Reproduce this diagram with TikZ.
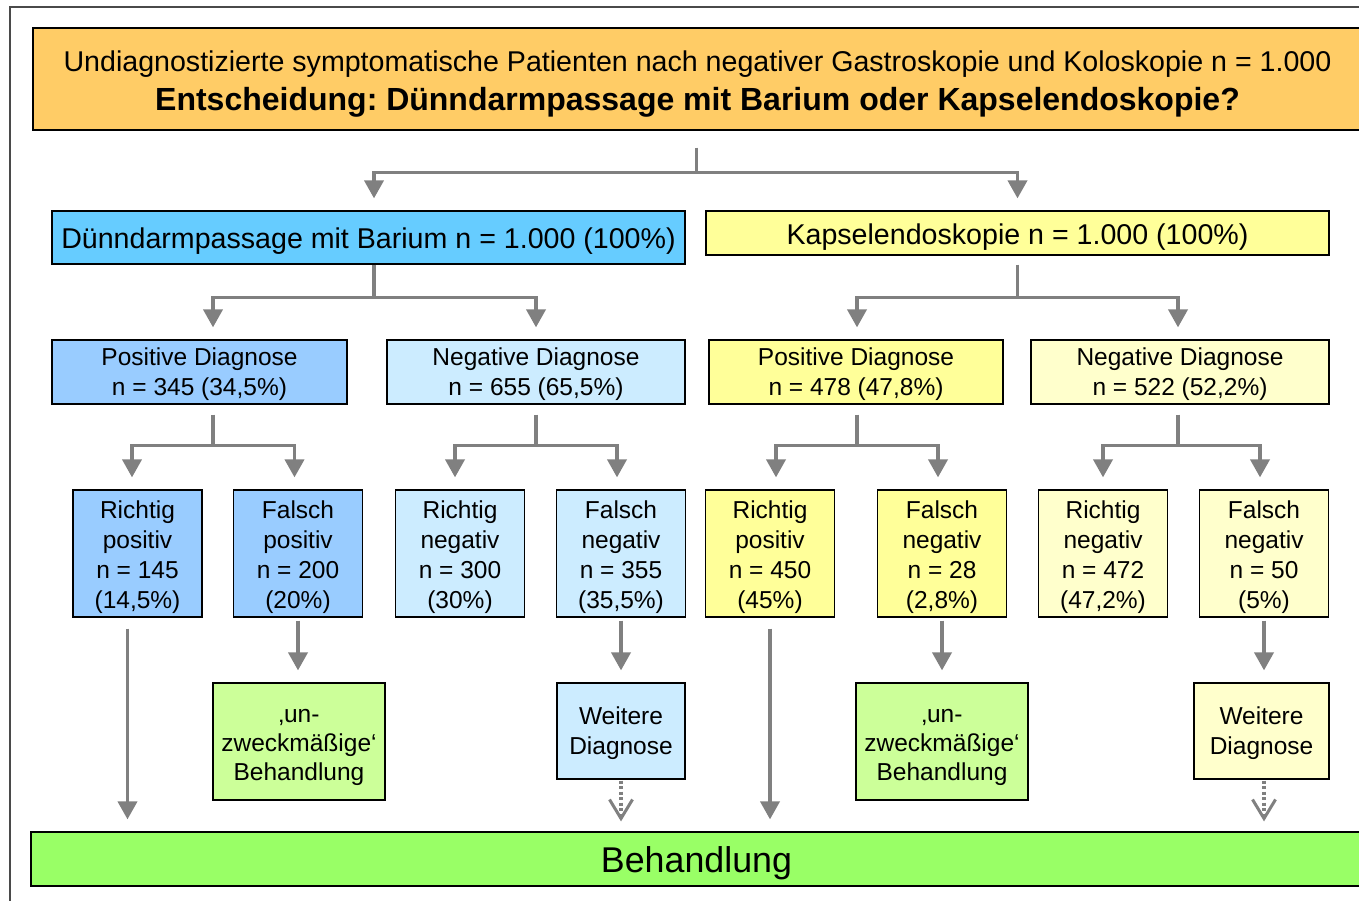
\documentclass[tikz,border=0pt]{standalone}
\usepackage{fontspec}
\setmainfont{Liberation Sans}
\usetikzlibrary{arrows.meta,calc}
\definecolor{cOrange}{HTML}{FFCC66}
\definecolor{cBlue}{HTML}{66CCFF}
\definecolor{cBlueM}{HTML}{99CCFF}
\definecolor{cBlueL}{HTML}{CCECFF}
\definecolor{cYel}{HTML}{FFFF99}
\definecolor{cYelL}{HTML}{FFFFCC}
\definecolor{cGreenL}{HTML}{CCFF99}
\definecolor{cGreen}{HTML}{99FF66}
\definecolor{cArr}{HTML}{808080}
\definecolor{cFrame}{HTML}{4A4A4A}
\newcommand\tstrut[1]{\rule{0pt}{#1}}
\frenchspacing
\begin{document}
\begin{tikzpicture}[x=1pt,y=-1pt,
  box/.style={draw=black, line width=1.2pt, inner sep=0pt, align=center,
    font=\fontsize{24.5}{30}\selectfont},
  lvtwo/.style={box, minimum height=64pt},
  lvthree/.style={box, minimum width=129pt, minimum height=127pt},
  gl/.style={draw=cArr, line width=3.75pt},
  ga/.style={gl, -{Triangle[width=19pt,length=18pt]}},
  gd/.style={draw=cArr, line width=3.75pt, dash pattern=on 3pt off 2.5pt,
    -{Straight Barb[length=19pt,width=23pt,line width=3pt]}}
]
\useasboundingbox (0,0) rectangle (1359,901);
\clip (0,0) rectangle (1359,901);
\fill[white] (0,0) rectangle (1359,901);
\draw[cFrame, line width=2pt] (10,905) -- (10,7) -- (1365,7);

% top
\node[box, fill=cOrange, minimum width=1329pt, minimum height=102pt,
  font=\fontsize{28.6}{39}\selectfont] (top) at (697.5,79)
  {\tstrut{30.4pt}Undiagnostizierte symptomatische Patienten nach negativer Gastroskopie und Koloskopie n = 1.000\\
   {\fontsize{32}{39}\selectfont\bfseries Entscheidung: Dünndarmpassage mit Barium oder Kapselendoskopie?}};

% level 1
\node[box, fill=cBlue, minimum width=633pt, minimum height=53pt,
  font=\fontsize{28.6}{32}\selectfont] (barium) at (368.5,237.5)
  {\tstrut{27.6pt}Dünndarmpassage mit Barium n = 1.000 (100\%)};
\node[box, fill=cYel, minimum width=623pt, minimum height=44pt,
  font=\fontsize{28.6}{32}\selectfont] (kapsel) at (1017.5,233)
  {\tstrut{28.8pt}Kapselendoskopie n = 1.000 (100\%)};

% level 2
\node[lvtwo, fill=cBlueM, minimum width=295pt] (bpos) at (199.5,372)
  {\tstrut{22pt}Positive Diagnose\\n = 345 (34,5\%)};
\node[lvtwo, fill=cBlueL, minimum width=298pt] (bneg) at (536,372)
  {\tstrut{22pt}Negative Diagnose\\n = 655 (65,5\%)};
\node[lvtwo, fill=cYel, minimum width=294pt] (kpos) at (856,372)
  {\tstrut{22pt}Positive Diagnose\\n = 478 (47,8\%)};
\node[lvtwo, fill=cYelL, minimum width=298pt] (kneg) at (1180,372)
  {\tstrut{22pt}Negative Diagnose\\n = 522 (52,2\%)};

% level 3
\node[lvthree, fill=cBlueM] (rpb) at (137.5,553.5) {\tstrut{26pt}Richtig\\positiv\\n = 145\\(14,5\%)};
\node[lvthree, fill=cBlueM] (fpb) at (298,553.5) {\tstrut{26pt}Falsch\\positiv\\n = 200\\(20\%)};
\node[lvthree, fill=cBlueL] (rnb) at (460,553.5) {\tstrut{26pt}Richtig\\negativ\\n = 300\\(30\%)};
\node[lvthree, fill=cBlueL] (fnb) at (621,553.5) {\tstrut{26pt}Falsch\\negativ\\n = 355\\(35,5\%)};
\node[lvthree, fill=cYel] (rpk) at (770,553.5) {\tstrut{26pt}Richtig\\positiv\\n = 450\\(45\%)};
\node[lvthree, fill=cYel] (fnk) at (942,553.5) {\tstrut{26pt}Falsch\\negativ\\n = 28\\(2,8\%)};
\node[lvthree, fill=cYelL] (rnk) at (1103,553.5) {\tstrut{26pt}Richtig\\negativ\\n = 472\\(47,2\%)};
\node[lvthree, fill=cYelL] (fnkk) at (1264,553.5) {\tstrut{26pt}Falsch\\negativ\\n = 50\\(5\%)};

% level 4
\node[box, fill=cGreenL, minimum width=172pt, minimum height=117pt,
  font=\fontsize{24.5}{29}\selectfont] (unzb) at (299,741.5)
  {\tstrut{24.7pt}‚un-\\zweckmäßige‘\\Behandlung};
\node[box, fill=cBlueL, minimum width=128pt, minimum height=96pt] (wdb) at (621,731)
  {\tstrut{22pt}Weitere\\Diagnose};
\node[box, fill=cGreenL, minimum width=172pt, minimum height=117pt,
  font=\fontsize{24.5}{29}\selectfont] (unzk) at (942,741.5)
  {\tstrut{24.7pt}‚un-\\zweckmäßige‘\\Behandlung};
\node[box, fill=cYelL, minimum width=135pt, minimum height=96pt] (wdk) at (1261.5,731)
  {\tstrut{22pt}Weitere\\Diagnose};

% bottom
\node[box, fill=cGreen, minimum width=1331pt, minimum height=54pt,
  font=\fontsize{35.8}{40}\selectfont] (beh) at (696.5,859) {\tstrut{34pt}Behandlung};

% connectors: top fork
\coordinate (tF) at ([xshift=-1pt,yshift=-42pt]top.south);
\draw[gl] ([xshift=-1pt,yshift=-17pt]top.south) -- (tF);
\draw[ga] (tF) -| ([xshift=5.5pt,yshift=12pt]barium.north);
\draw[ga] (tF) -| ([yshift=12pt]kapsel.north);

% barium fork
\coordinate (bF) at ([xshift=5.5pt,yshift=-33pt]barium.south);
\draw[gl] ([xshift=5.5pt]barium.south) -- (bF);
\draw[ga] (bF) -| ([xshift=13.5pt,yshift=12pt]bpos.north);
\draw[ga] (bF) -| ([yshift=12pt]bneg.north);

% kapsel fork
\coordinate (kF) at ([yshift=-42pt]kapsel.south);
\draw[gl] ([yshift=-9pt]kapsel.south) -- (kF);
\draw[ga] (kF) -| ([xshift=1pt,yshift=12pt]kpos.north);
\draw[ga] (kF) -| ([xshift=-2pt,yshift=12pt]kneg.north);

% level 2 forks
\coordinate (bpF) at ([xshift=13.5pt,yshift=-41pt]bpos.south);
\draw[gl] ([xshift=13.5pt,yshift=-10pt]bpos.south) -- (bpF);
\draw[ga] (bpF) -| ([xshift=-5.5pt,yshift=12pt]rpb.north);
\draw[ga] (bpF) -| ([xshift=-3.5pt,yshift=12pt]fpb.north);

\coordinate (bnF) at ([yshift=-41pt]bneg.south);
\draw[gl] ([yshift=-10pt]bneg.south) -- (bnF);
\draw[ga] (bnF) -| ([xshift=-5pt,yshift=12pt]rnb.north);
\draw[ga] (bnF) -| ([xshift=-4pt,yshift=12pt]fnb.north);

\coordinate (kpF) at ([xshift=1pt,yshift=-41pt]kpos.south);
\draw[gl] ([xshift=1pt,yshift=-10pt]kpos.south) -- (kpF);
\draw[ga] (kpF) -| ([xshift=6pt,yshift=12pt]rpk.north);
\draw[ga] (kpF) -| ([xshift=-4pt,yshift=12pt]fnk.north);

\coordinate (knF) at ([xshift=-2pt,yshift=-41pt]kneg.south);
\draw[gl] ([xshift=-2pt,yshift=-10pt]kneg.south) -- (knF);
\draw[ga] (knF) -| ([yshift=12pt]rnk.north);
\draw[ga] (knF) -| ([xshift=-4pt,yshift=12pt]fnkk.north);

% level 3 -> level 4
\draw[ga, shorten >=12pt] ([yshift=-3pt]fpb.south) -- (fpb.south |- unzb.north);
\draw[ga, shorten >=12pt] ([yshift=-3pt]fnb.south) -- (fnb.south |- wdb.north);
\draw[ga, shorten >=12pt] ([yshift=-3pt]fnk.south) -- (fnk.south |- unzk.north);
\draw[ga, shorten >=12pt] ([yshift=-3pt]fnkk.south) -- (fnkk.south |- wdk.north);

% long arrows to Behandlung
\draw[ga, shorten >=12pt] ([xshift=-10pt,yshift=-11pt]rpb.south) -- ([xshift=-10pt]rpb.south |- beh.north);
\draw[ga, shorten >=12pt] ([yshift=-11pt]rpk.south) -- (rpk.south |- beh.north);

% dotted arrows
\draw[gd, shorten >=10pt] ([yshift=-1pt]wdb.south) -- (wdb.south |- beh.north);
\draw[gd, shorten >=10pt] ([xshift=2.5pt,yshift=-1pt]wdk.south) -- ([xshift=2.5pt]wdk.south |- beh.north);
\end{tikzpicture}
\end{document}
